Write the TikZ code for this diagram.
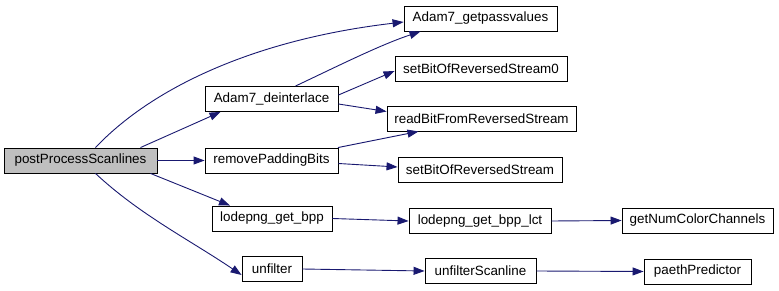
\documentclass[tikz,border=0pt]{standalone}
\usepackage{fontspec}
\setmainfont{Liberation Sans}
\usetikzlibrary{arrows.meta,calc}
\definecolor{edgeblue}{HTML}{191970}
\definecolor{rootgray}{HTML}{BFBFBF}
\begin{document}
\begin{tikzpicture}[x=1pt,y=-1pt,
  fn/.style={draw=black,fill=white,line width=0.9pt,minimum height=25pt,
    inner sep=0pt,font=\fontsize{13.4}{15}\selectfont},
  root/.style={fn,fill=rootgray},
  call/.style={draw=edgeblue,line width=0.9pt,
    -{Triangle[length=11pt,width=8pt,fill=edgeblue]}}]
\useasboundingbox (0,0) rectangle (779,291);

% functions
\node[root,minimum width=153pt] (pps)  at (80.5,160.5) {postProcessScanlines};
\node[fn,minimum width=153pt]   (gpv)  at (480.5,18.5) {Adam7\_getpassvalues};
\node[fn,minimum width=172pt]   (sb0)  at (481,69)     {setBitOfReversedStream0};
\node[fn,minimum width=133pt]   (dei)  at (271.5,99)   {Adam7\_deinterlace};
\node[fn,minimum width=189pt]   (rbf)  at (481.5,118.5){readBitFromReversedStream};
\node[fn,minimum width=133pt]   (rpb)  at (271.5,160.5){removePaddingBits};
\node[fn,minimum width=164pt]   (sbs)  at (480,170)    {setBitOfReversedStream};
\node[fn,minimum width=120pt]   (bpp)  at (272,218.5)  {lodepng\_get\_bpp};
\node[fn,minimum width=142pt]   (lct)  at (480,221)    {lodepng\_get\_bpp\_lct};
\node[fn,minimum width=60pt]    (unf)  at (272,269)    {unfilter};
\node[fn,minimum width=111pt]   (usl)  at (480.5,271)  {unfilterScanline};
\node[fn,minimum width=151pt]   (ncc)  at (697.5,220.5){getNumColorChannels};
\node[fn,minimum width=107pt]   (pae)  at (697.5,271.5){paethPredictor};

% calls from postProcessScanlines
\draw[call] ([xshift=15pt]pps.north) .. controls (150,90) and (250,40) .. ([yshift=-3.5pt]gpv.west);
\draw[call] ([xshift=60pt]pps.north) -- ([xshift=-51pt]dei.south);
\draw[call] (pps.east) -- (rpb.west);
\draw[call] ([xshift=70pt]pps.south) -- ([xshift=-42pt]bpp.north);
\draw[call] ([xshift=15pt]pps.south) .. controls (140,215) and (190,240) .. ([yshift=-6pt]unf.west);

% calls from Adam7_deinterlace
\draw[call] ([xshift=24pt]dei.north) .. controls (340,65) and (380,45) .. ([xshift=-60pt]gpv.south);
\draw[call] ([yshift=4pt]dei.east) -- ([yshift=-2pt]sb0.west);
\draw[call] ([yshift=-5pt]dei.east) -- ([yshift=7pt]rbf.west);

% calls from removePaddingBits
\draw[call] ([xshift=66.5pt]rpb.north) -- ([xshift=-63pt]rbf.south);
\draw[call] ([yshift=-3pt]rpb.east) -- ([yshift=3pt]sbs.west);

% remaining calls
\draw[call] (bpp.east) -- (lct.west);
\draw[call] (lct.east) -- (ncc.west);
\draw[call] (unf.east) -- (usl.west);
\draw[call] (usl.east) -- (pae.west);
\end{tikzpicture}
\end{document}
